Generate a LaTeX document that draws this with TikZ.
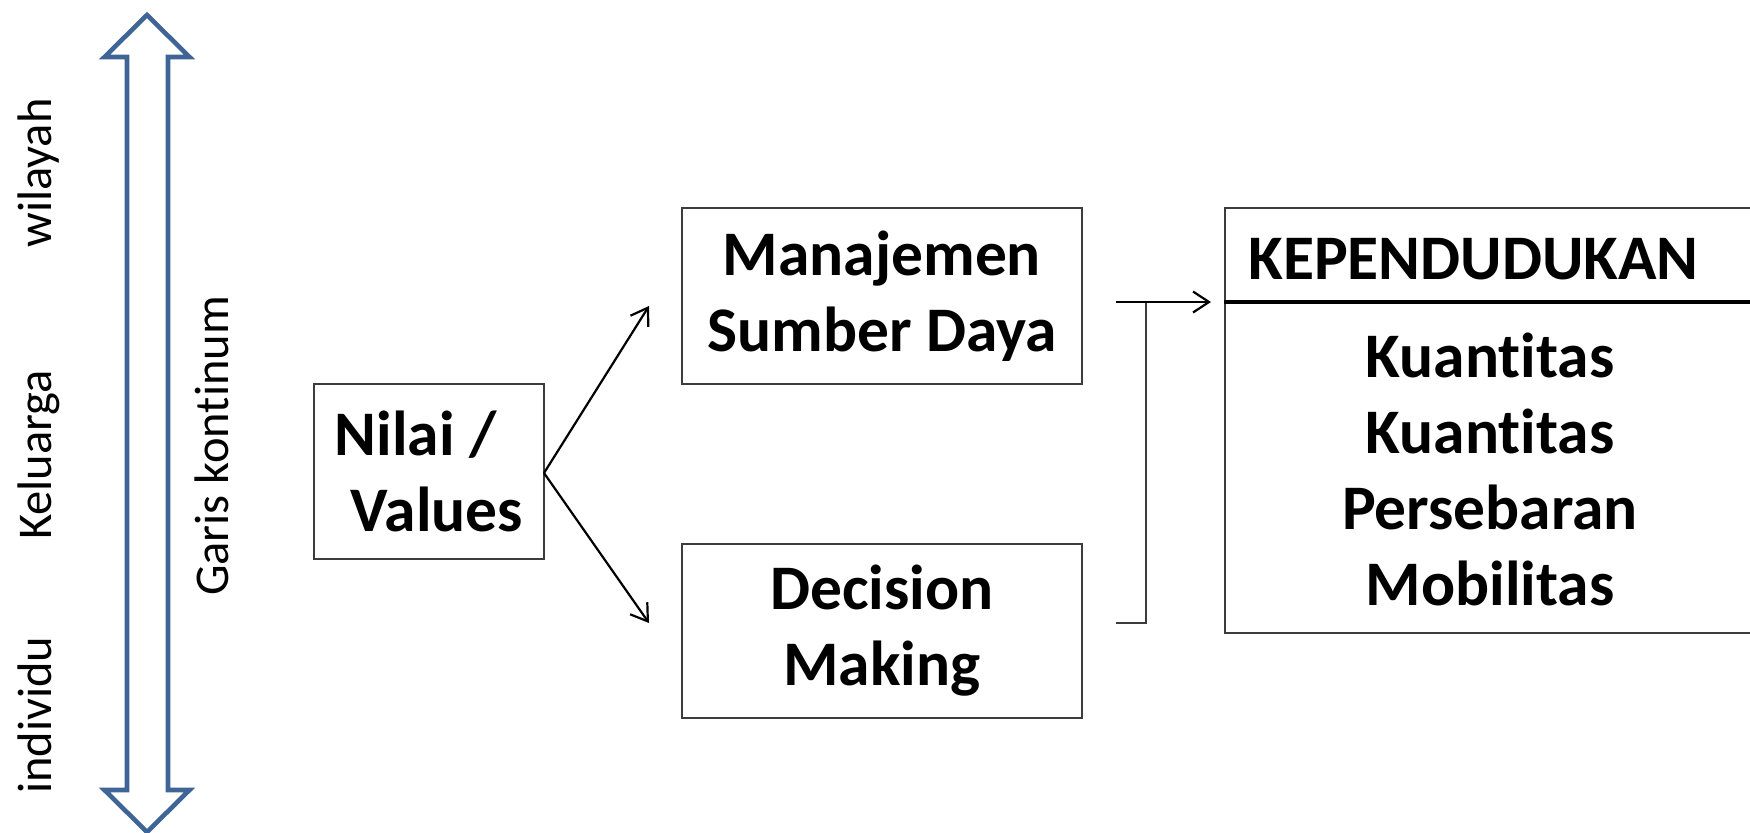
\documentclass[tikz,border=0pt]{standalone}
\usepackage{fontspec}
\setmainfont{Carlito}[Ligatures=NoCommon]
\usetikzlibrary{arrows.meta}
\definecolor{arrowblue}{RGB}{62,101,150}
\definecolor{boxline}{RGB}{60,60,60}
\newcommand{\tinolig}{t\kern0pt i}
\tikzset{
  boxnode/.style={draw=boxline, line width=1.1pt, inner sep=0pt, align=center,
    font=\bfseries\fontsize{31.75}{38}\selectfont},
  boxtext/.style={inner sep=0pt, font=\bfseries\fontsize{31.75}{38}\selectfont},
  sidelabel/.style={rotate=90, anchor=base, inner sep=0pt,
    font=\fontsize{24.25}{29}\selectfont},
  arr/.style={line width=1.1pt, black, -{Straight Barb[length=8pt,width=10.5pt,line width=1.1pt]}},
  bracketline/.style={line width=1.1pt, boxline},
}
\begin{document}
\begin{tikzpicture}[x=0.5pt,y=-0.5pt]
\useasboundingbox (0,0) rectangle (1750,832);
\clip (0,0) rectangle (1750,832);
\fill[white] (0,0) rectangle (1750,832);

% continuum double arrow
\draw[arrowblue, line width=2.3pt, line join=miter, fill=white]
  (147,15) -- (189.5,57) -- (168,57) -- (168,790) -- (189.5,790) -- (147,832)
  -- (104.5,790) -- (127,790) -- (127,57) -- (104.5,57) -- cycle;

% side labels
\node[sidelabel] (wil) at (51,173) {wilayah};
\node[sidelabel] (kel) at (51,455) {Keluarga};
\node[sidelabel] (ind) at (51,715) {individu};
\node[sidelabel] (garis) at (228,446) {Garis kon\tinolig num};

% boxes
\node[boxnode, align=left, minimum width=115pt, minimum height=87.5pt] (nilai) at (429,471.5)
  {Nilai /\\\hspace{8pt}Values};
\node[boxnode, minimum width=200pt, minimum height=88pt] (manaj) at (882,296)
  {Manajemen\\Sumber Daya};
\node[boxnode, minimum width=200pt, minimum height=87pt] (decis) at (882,631)
  {Decision\\Making};
\node[draw=boxline, line width=1.1pt, inner sep=0pt, minimum width=267.5pt, minimum height=212.5pt] (kep) at (1492.5,420.5) {};
\draw[line width=1.6pt, black] (kep.west |- 0,302) -- (kep.east |- 0,302);
\node[boxtext, anchor=west] (kephead) at (1248,259) {KEPENDUDUKAN};
\node[boxtext, align=center] (kepitems) at (1490,469)
  {Kuan\tinolig tas\\Kuan\tinolig tas\\Persebaran\\Mobilitas};

% arrows from Nilai
\coordinate (tipM) at (649,306);
\coordinate (tipD) at (649,623);
\coordinate (src) at (544,473);
\draw[arr] (src) -- (tipM);
\draw[arr] (src) -- (tipD);

% bracket and arrow to Kependudukan
\coordinate (btop) at (1116,302);
\coordinate (bjoin) at (1146,302);
\coordinate (bbot) at (1116,623);
\coordinate (ktip) at (1211,302);
\draw[bracketline] (bjoin) |- (bbot);
\draw[arr] (btop) -- (ktip);
\end{tikzpicture}
\end{document}
